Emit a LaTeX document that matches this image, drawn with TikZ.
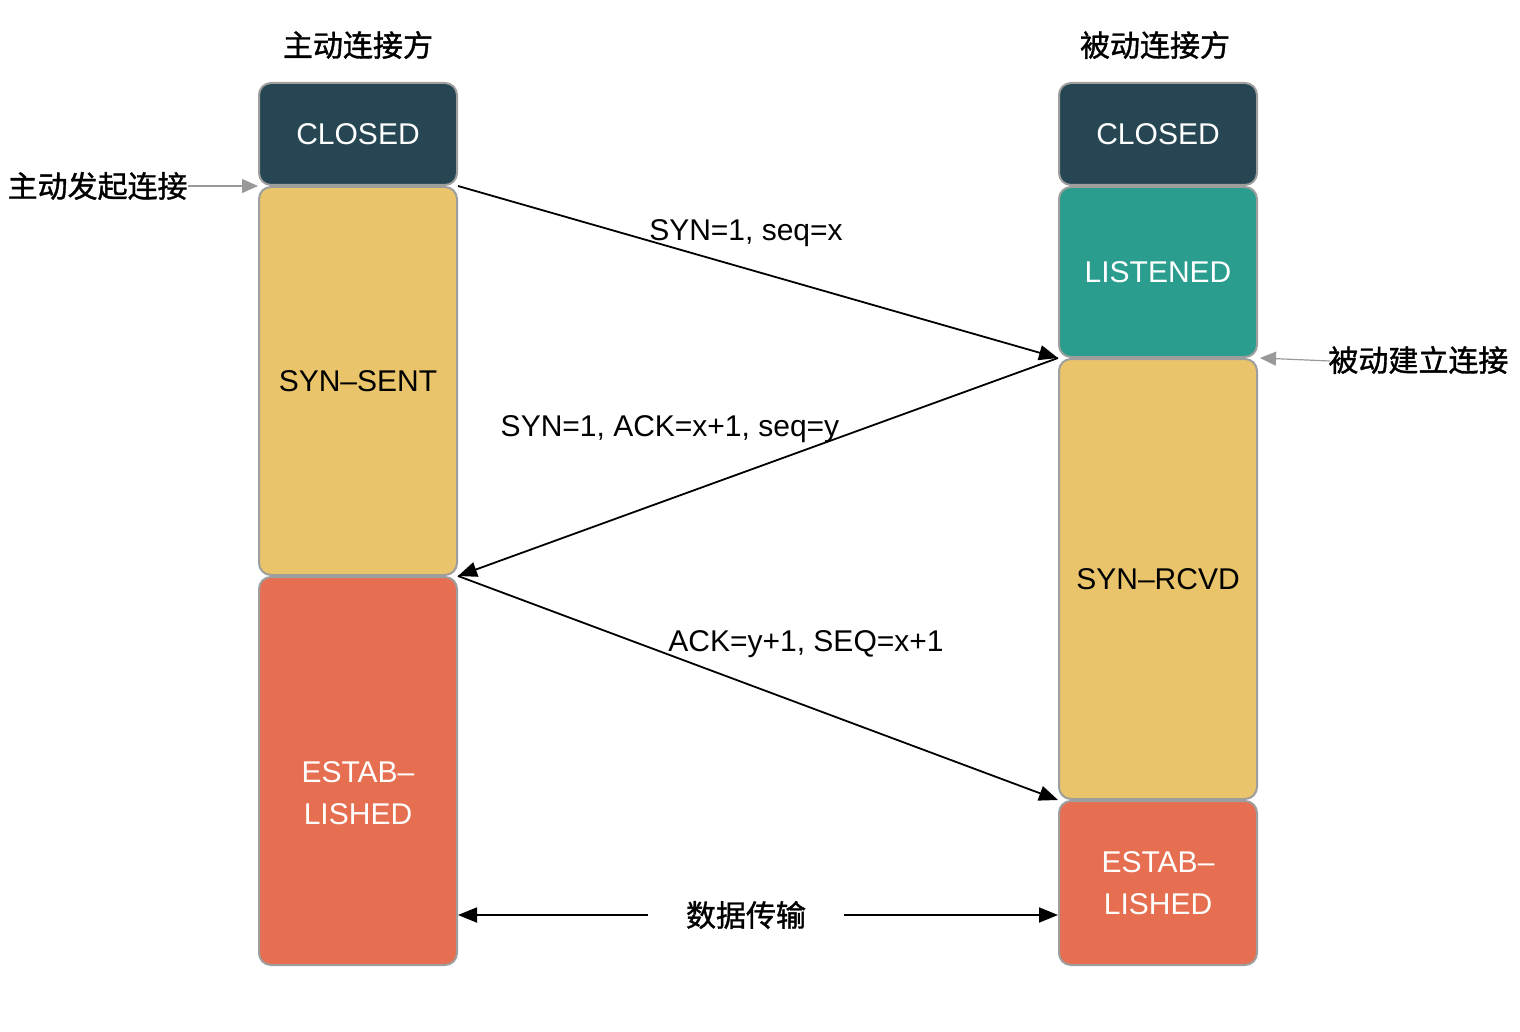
\documentclass[tikz,border=0pt]{standalone}
\usepackage{fontspec}
\setmainfont{Liberation Sans}
\newfontfamily\cjk{Noto Sans CJK SC}[FakeBold=1.2]
\usetikzlibrary{arrows.meta}
\definecolor{cdark}{HTML}{264653}
\definecolor{cteal}{HTML}{2A9D8F}
\definecolor{cyel}{HTML}{E9C46A}
\definecolor{cred}{HTML}{E76F51}
\definecolor{cborder}{HTML}{9E9E9E}
\definecolor{cgrayarrow}{HTML}{999999}
\begin{document}
\begin{tikzpicture}[x=0.5pt,y=-0.5pt,
  every node/.style={font=\fontsize{15pt}{21pt}\selectfont},
  box/.style={draw=cborder,line width=1pt,rounded corners=6pt,minimum width=99pt,inner sep=0pt,align=center},
  msg/.style={line width=0.9pt,-{Triangle[length=9.5pt,width=7.5pt]}},
  note/.style={cgrayarrow,line width=0.6pt,-{Triangle[length=8pt,width=7pt]}},
  lbl/.style={inner sep=0pt},
  wt/.style={text=white}]
\useasboundingbox (0,0) rectangle (1520,1032);
% titles
\node[lbl] (t1) at (358,45) {\cjk 主动连接方};
\node[lbl] (t2) at (1155,45) {\cjk 被动连接方};
% left column
\node[box,fill=cdark,wt,minimum height=51pt] (lc) at (358,134) {CLOSED};
\node[box,fill=cyel,minimum height=194pt] (ls) at (358,381) {SYN–SENT};
\node[box,fill=cred,minimum height=194pt] (le) at (358,771) {};
\node[lbl,wt,align=center] (let) at (358,793) {ESTAB–\\LISHED};
% right column
\node[box,fill=cdark,wt,minimum height=51pt] (rc) at (1158,134) {CLOSED};
\node[box,fill=cteal,wt,minimum height=85pt] (rl) at (1158,272) {LISTENED};
\node[box,fill=cyel,minimum height=220pt] (rs) at (1158,579) {SYN–RCVD};
\node[box,fill=cred,wt,minimum height=82pt] (re) at (1158,883) {ESTAB–\\LISHED};
% side notes
\node[lbl,anchor=east] (ia) at (188,186) {\cjk 主动发起连接};
\draw[note] (ia.east) -- (lc.south west);
\node[lbl,anchor=west] (pa) at (1328,360) {\cjk 被动建立连接};
\draw[note] ([xshift=1pt,yshift=-0.5pt]pa.west) -- ([xshift=1pt]rl.south east);
% messages
\draw[msg] (lc.south east) -- (rl.south west);
\node[lbl] (m1) at (746,233) {SYN=1, seq=x};
\draw[msg] (rs.north west) -- (ls.south east);
\node[lbl] (m2) at (670,429) {SYN=1, ACK=x+1, seq=y};
\draw[msg] (le.north east) -- (re.north west);
\node[lbl] (m3) at (806,644) {ACK=y+1, SEQ=x+1};
% data transfer
\node[inner xsep=19pt,inner ysep=0pt] (dt) at (746,915) {\cjk 数据传输};
\draw[msg] (dt.west) -- (dt.west -| le.east);
\draw[msg] (dt.east) -- (dt.east -| re.west);
\end{tikzpicture}
\end{document}
